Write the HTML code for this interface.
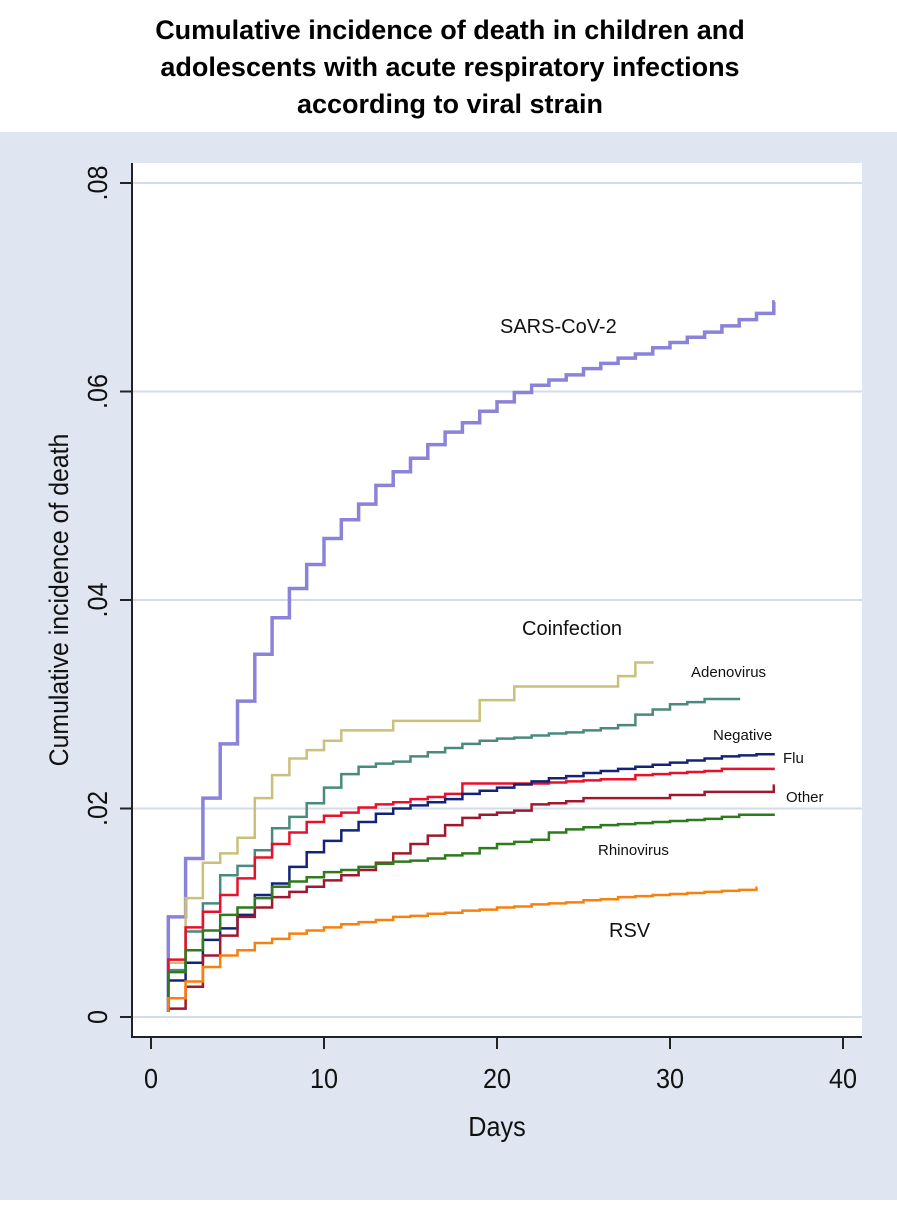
<!DOCTYPE html>
<html><head><meta charset="utf-8"><style>
body{margin:0;width:897px;height:1200px;overflow:hidden;background:#fff;font-family:"Liberation Sans",Arial,sans-serif}
</style></head><body>
<svg id="chart" width="897" height="1200" xmlns="http://www.w3.org/2000/svg">
<rect x="0" y="0" width="897" height="132" fill="#ffffff"/>
<rect x="0" y="132" width="897" height="1068" fill="#dfe5f1"/>
<g font-weight="bold" font-size="27" text-anchor="middle" fill="#000">
<text x="450" y="39">Cumulative incidence of death in children and</text>
<text x="450" y="76">adolescents with acute respiratory infections</text>
<text x="450" y="113">according to viral strain</text>
</g>
<rect x="132" y="163" width="730" height="874" fill="#ffffff"/>
<g id="grid"></g>
<g id="axes"></g>
<g id="series"></g>
<g fill="#111">
<text x="500" y="333" font-size="20">SARS-CoV-2</text>
<text x="522" y="635" font-size="20">Coinfection</text>
<text x="691" y="677" font-size="15">Adenovirus</text>
<text x="713" y="740" font-size="15">Negative</text>
<text x="783" y="763" font-size="15">Flu</text>
<text x="786" y="802" font-size="15">Other</text>
<text x="598" y="855" font-size="15">Rhinovirus</text>
<text x="609" y="937" font-size="20">RSV</text>
</g>
<text transform="translate(68,600) rotate(-90) scale(0.92,1)" text-anchor="middle" font-size="27" fill="#111">Cumulative incidence of death</text>
<text transform="translate(497,1136) scale(0.9,1)" text-anchor="middle" font-size="28" fill="#111">Days</text>
</svg>
<script>
const xTicks=[0,10,20,30,40];
const yTicks=[0,0.02,0.04,0.06,0.08];
const yTickLabels=["0",".02",".04",".06",".08"];
const sars=[0.0096,0.0152,0.021,0.0262,0.0303,0.0348,0.0383,0.0411,0.0434,0.0459,0.0477,0.0492,0.051,0.0523,0.0536,0.0549,0.0561,0.057,0.0581,0.059,0.0599,0.0606,0.0611,0.0616,0.0622,0.0627,0.0632,0.0636,0.0642,0.0647,0.0652,0.0657,0.0663,0.0669,0.0675,0.0686];
const coinfection=[0.0052,0.0114,0.0148,0.0157,0.0172,0.021,0.0232,0.0248,0.0256,0.0265,0.0275,0.0275,0.0275,0.0284,0.0284,0.0284,0.0284,0.0284,0.0304,0.0304,0.0317,0.0317,0.0317,0.0317,0.0317,0.0317,0.0327,0.034,0.034];
const adenovirus=[0.0045,0.0082,0.0109,0.0136,0.0145,0.016,0.0181,0.0192,0.0205,0.022,0.0233,0.024,0.0243,0.0245,0.025,0.0254,0.0258,0.0262,0.0265,0.0267,0.0268,0.027,0.0272,0.0273,0.0275,0.0277,0.028,0.029,0.0295,0.03,0.0302,0.0305,0.0305,0.0305];
const negative=[0.0055,0.0086,0.0101,0.0117,0.0133,0.0153,0.0166,0.0177,0.0187,0.0193,0.0196,0.0201,0.0204,0.0206,0.0209,0.0211,0.0214,0.0224,0.0224,0.0224,0.0224,0.0224,0.0225,0.0226,0.0227,0.0228,0.0228,0.0232,0.0233,0.0234,0.0235,0.0236,0.0238,0.0238,0.0238,0.0238];
const flu=[0.0035,0.0052,0.0074,0.0085,0.0098,0.0117,0.0128,0.0144,0.0158,0.0169,0.0179,0.0187,0.0195,0.02,0.0203,0.0206,0.0209,0.0214,0.0217,0.022,0.0223,0.0226,0.0229,0.0231,0.0234,0.0236,0.0238,0.024,0.0242,0.0244,0.0246,0.0248,0.025,0.0251,0.0252,0.0252];
const other=[0.0008,0.0029,0.0059,0.0078,0.0096,0.0105,0.0115,0.012,0.0125,0.0131,0.0136,0.0141,0.0148,0.0157,0.0166,0.0174,0.0184,0.0191,0.0194,0.0196,0.0198,0.0204,0.0205,0.0207,0.021,0.021,0.021,0.021,0.021,0.0213,0.0213,0.0216,0.0216,0.0216,0.0216,0.0222];
const rhinovirus=[0.0043,0.0064,0.0083,0.0098,0.0105,0.0114,0.0125,0.013,0.0134,0.0139,0.0141,0.0144,0.0147,0.0149,0.015,0.0152,0.0155,0.0157,0.0162,0.0166,0.0168,0.017,0.0177,0.018,0.0182,0.0184,0.0185,0.0186,0.0187,0.0188,0.0189,0.019,0.0192,0.0194,0.0194,0.0194];
const rsv=[0.0018,0.0034,0.0048,0.0059,0.0064,0.0071,0.0075,0.008,0.0083,0.0086,0.0089,0.0091,0.0093,0.0096,0.0097,0.0099,0.01,0.0102,0.0103,0.0105,0.0106,0.0108,0.0109,0.011,0.0112,0.0113,0.0115,0.0116,0.0117,0.0118,0.0119,0.012,0.0121,0.0122,0.0124];
const seriesNames=["sars-cov-2","coinfection","adenovirus","negative","flu","other","rhinovirus","rsv"];
const seriesData=[sars,coinfection,adenovirus,negative,flu,other,rhinovirus,rsv];
const seriesColors=["#8b82d9","#c9c07a","#4a8a7c","#e8102a","#14237a","#a0182e","#2e7a1c","#f7800f"];
const seriesWidths=[3.5,2.5,2.5,2.5,2.5,2.5,2.5,2.5];
const NS="http://www.w3.org/2000/svg";
const xS=d=>151+d*17.3;
const yS=v=>1017-v*10425;
const grid=document.getElementById('grid'),axes=document.getElementById('axes'),sg=document.getElementById('series');
yTicks.forEach((t,i)=>{
  const l=document.createElementNS(NS,'line');
  
  
  l.setAttribute('x1',133);l.setAttribute('x2',862);l.setAttribute('y1',yS(t));l.setAttribute('y2',yS(t));
  l.setAttribute('stroke','#d4dcea');l.setAttribute('stroke-width',2);grid.appendChild(l);
  const tk=document.createElementNS(NS,'line');
  
  
  tk.setAttribute('x1',120);tk.setAttribute('x2',132);tk.setAttribute('y1',yS(t));tk.setAttribute('y2',yS(t));
  tk.setAttribute('stroke','#222');tk.setAttribute('stroke-width',2);axes.appendChild(tk);
  const tx=document.createElementNS(NS,'text');
  
  
  tx.setAttribute('transform','translate(107,'+yS(t)+') rotate(-90) scale(0.9,1)');
  tx.setAttribute('text-anchor','middle');tx.setAttribute('font-size','28');tx.setAttribute('fill','#111');
  tx.textContent=yTickLabels[i];axes.appendChild(tx);
});
xTicks.forEach(t=>{
  const tk=document.createElementNS(NS,'line');
  
  
  tk.setAttribute('x1',xS(t));tk.setAttribute('x2',xS(t));tk.setAttribute('y1',1037);tk.setAttribute('y2',1049);
  tk.setAttribute('stroke','#222');tk.setAttribute('stroke-width',2);axes.appendChild(tk);
  const tx=document.createElementNS(NS,'text');
  
  
  tx.setAttribute('transform','translate('+xS(t)+',1088) scale(0.9,1)');
  tx.setAttribute('text-anchor','middle');tx.setAttribute('font-size','28');tx.setAttribute('fill','#111');
  tx.textContent=t;axes.appendChild(tx);
});
const ya=document.createElementNS(NS,'line');


ya.setAttribute('x1',132);ya.setAttribute('x2',132);ya.setAttribute('y1',163);ya.setAttribute('y2',1038);
ya.setAttribute('stroke','#222');ya.setAttribute('stroke-width',2);axes.appendChild(ya);
const xa=document.createElementNS(NS,'line');


xa.setAttribute('x1',131);xa.setAttribute('x2',862);xa.setAttribute('y1',1037);xa.setAttribute('y2',1037);
xa.setAttribute('stroke','#222');xa.setAttribute('stroke-width',2);axes.appendChild(xa);
seriesData.forEach((arr,k)=>{
  let d='M'+xS(1)+','+yS(0.0005)+' L'+xS(1)+','+yS(arr[0]);
  for(let i=1;i<arr.length;i++){d+=' L'+xS(i+1)+','+yS(arr[i-1])+' L'+xS(i+1)+','+yS(arr[i]);}
  d+=' L'+(xS(arr.length)+1)+','+yS(arr[arr.length-1]);
  const p=document.createElementNS(NS,'path');
  
  
  p.setAttribute('d',d);p.setAttribute('fill','none');
  p.setAttribute('stroke',seriesColors[k]);p.setAttribute('stroke-width',seriesWidths[k]);
  sg.appendChild(p);
});
</script>
</body></html>
